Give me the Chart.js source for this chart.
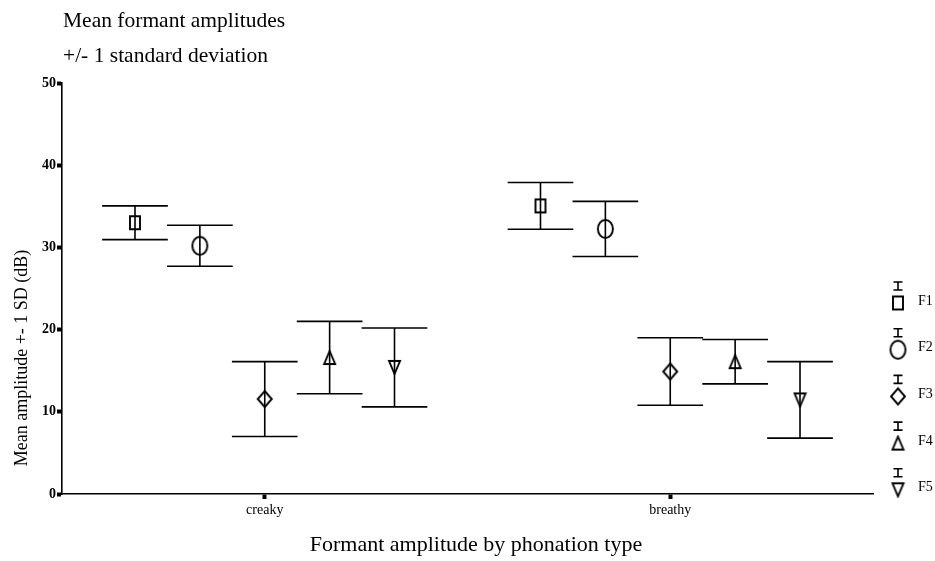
<!DOCTYPE html>
<html lang="en">
<head>
    <meta charset="UTF-8">
    <title>Mean formant amplitudes</title>
    <style>
        body { margin: 0; background: #fff; }
    </style>
</head>
<body>
    <canvas id="formantChart" width="935" height="561"></canvas>

    <script src="https://cdn.jsdelivr.net/npm/chart.js"></script>
    <script>
        // categories and series
        const categories = ['creaky', 'breathy'];
        const seriesNames = ['F1', 'F2', 'F3', 'F4', 'F5'];
        const yTicks = [0, 10, 20, 30, 40, 50];

        // mean amplitude (dB) per category: [creaky, breathy]
        const f1Mean = [33.0, 35.05];
        const f2Mean = [30.2, 32.25];
        const f3Mean = [11.55, 14.9];
        const f4Mean = [16.6, 16.1];
        const f5Mean = [15.4, 11.45];

        // one standard deviation
        const f1Sd = [2.05, 2.85];
        const f2Sd = [2.5, 3.35];
        const f3Sd = [4.55, 4.1];
        const f4Sd = [4.4, 2.7];
        const f5Sd = [4.8, 4.65];

        const means = [f1Mean, f2Mean, f3Mean, f4Mean, f5Mean];
        const sds = [f1Sd, f2Sd, f3Sd, f4Sd, f5Sd];

        const serif = '"Liberation Serif", "Times New Roman", serif';
        const groupStep = 0.16;   // spread of the five series inside a category
        const capHalf = 0.081;    // half width of the error bar caps, in x units

        function makeMarker(shape, w, h) {
            const c = document.createElement('canvas');
            c.width = w + 4;
            c.height = h + 4;
            const g = c.getContext('2d');
            const cx = c.width / 2, cy = c.height / 2, rx = w / 2, ry = h / 2;
            g.strokeStyle = '#000';
            g.lineWidth = 1.9;
            g.beginPath();
            if (shape === 'square') {
                g.rect(cx - rx, cy - ry, w, h);
            } else if (shape === 'circle') {
                g.ellipse(cx, cy, rx, ry, 0, 0, Math.PI * 2);
            } else if (shape === 'diamond') {
                g.moveTo(cx, cy - ry);
                g.lineTo(cx + rx, cy);
                g.lineTo(cx, cy + ry);
                g.lineTo(cx - rx, cy);
                g.closePath();
            } else if (shape === 'up') {
                g.moveTo(cx, cy - ry);
                g.lineTo(cx + rx, cy + ry);
                g.lineTo(cx - rx, cy + ry);
                g.closePath();
            } else {
                g.moveTo(cx - rx, cy - ry);
                g.lineTo(cx + rx, cy - ry);
                g.lineTo(cx, cy + ry);
                g.closePath();
            }
            g.stroke();
            return c;
        }

        const markers = [
            makeMarker('square', 10, 13),
            makeMarker('circle', 15, 18),
            makeMarker('diamond', 14, 16),
            makeMarker('up', 11, 13),
            makeMarker('down', 11, 13)
        ];

        function offsetOf(i) {
            return (i - 2) * groupStep;
        }

        const errorBars = {
            id: 'errorBars',
            beforeDatasetsDraw(chart) {
                const ctx = chart.ctx;
                const xs = chart.scales.x, ys = chart.scales.y;
                ctx.save();
                ctx.strokeStyle = '#000';
                ctx.lineWidth = 1.6;
                means.forEach((m, i) => {
                    m.forEach((v, j) => {
                        const x = xs.getPixelForValue(j + offsetOf(i));
                        const x0 = xs.getPixelForValue(j + offsetOf(i) - capHalf);
                        const x1 = xs.getPixelForValue(j + offsetOf(i) + capHalf);
                        const top = ys.getPixelForValue(v + sds[i][j]);
                        const bot = ys.getPixelForValue(v - sds[i][j]);
                        ctx.beginPath();
                        ctx.moveTo(x, top); ctx.lineTo(x, bot);
                        ctx.moveTo(x0, top); ctx.lineTo(x1, top);
                        ctx.moveTo(x0, bot); ctx.lineTo(x1, bot);
                        ctx.stroke();
                    });
                });
                ctx.restore();
            }
        };

        const texts = {
            id: 'texts',
            afterDraw(chart) {
                const ctx = chart.ctx;
                ctx.save();
                ctx.fillStyle = '#000';
                ctx.font = '21.5px ' + serif;
                ctx.textAlign = 'left';
                ctx.textBaseline = 'alphabetic';
                ctx.fillText('Mean formant amplitudes', 63, 27);
                ctx.fillText('+/- 1 standard deviation', 63, 62);

                ctx.textAlign = 'center';
                ctx.font = '22px ' + serif;
                ctx.fillText('Formant amplitude by phonation type', 476, 551);

                ctx.save();
                ctx.font = '18px ' + serif;
                ctx.translate(27, 358);
                ctx.rotate(-Math.PI / 2);
                ctx.fillText('Mean amplitude +- 1 SD (dB)', 0, 0);
                ctx.restore();

                // legend at the right
                ctx.strokeStyle = '#000';
                ctx.lineWidth = 1.6;
                ctx.font = '14px ' + serif;
                ctx.textAlign = 'left';
                ctx.textBaseline = 'middle';
                seriesNames.forEach((name, i) => {
                    const yc = 303 + i * 46.7;
                    const xc = 898;
                    ctx.beginPath();
                    ctx.moveTo(xc, yc - 21); ctx.lineTo(xc, yc - 13);
                    ctx.moveTo(xc - 4.5, yc - 21); ctx.lineTo(xc + 4.5, yc - 21);
                    ctx.moveTo(xc - 4.5, yc - 13); ctx.lineTo(xc + 4.5, yc - 13);
                    ctx.stroke();
                    const m = markers[i];
                    ctx.drawImage(m, xc - m.width / 2, yc - m.height / 2);
                    ctx.fillText(name, 918, yc - 2);
                });
                ctx.restore();
            }
        };

        const datasets = seriesNames.map((name, i) => ({
            label: name,
            data: categories.map((c, j) => ({ x: j + offsetOf(i), y: means[i][j] })),
            pointStyle: markers[i],
            pointRadius: 8,
            showLine: false
        }));

        new Chart(document.getElementById('formantChart'), {
            type: 'scatter',
            data: { datasets: datasets },
            plugins: [errorBars, texts],
            options: {
                responsive: false,
                animation: false,
                layout: { padding: { top: 83, right: 62, left: 0, bottom: 0 } },
                plugins: {
                    legend: { display: false },
                    tooltip: { enabled: false }
                },
                scales: {
                    x: {
                        type: 'linear',
                        min: -0.5,
                        max: 1.5,
                        afterBuildTicks: (s) => { s.ticks = [{ value: 0 }, { value: 1 }]; },
                        afterFit: (s) => { s.height = 67; },
                        ticks: {
                            color: '#000',
                            padding: 3,
                            font: { family: serif, size: 14 },
                            callback: (v) => categories[v]
                        },
                        grid: {
                            drawOnChartArea: false,
                            tickLength: 5,
                            tickWidth: 4,
                            tickColor: '#000'
                        },
                        border: { display: true, color: '#000', width: 1.6 }
                    },
                    y: {
                        min: 0,
                        max: 50,
                        afterBuildTicks: (s) => { s.ticks = yTicks.map(v => ({ value: v })); },
                        afterFit: (s) => { s.width = 62; },
                        ticks: {
                            color: '#000',
                            padding: 1,
                            font: { family: serif, size: 14, weight: 'bold' }
                        },
                        grid: {
                            drawOnChartArea: false,
                            tickLength: 5,
                            tickWidth: 4,
                            tickColor: '#000'
                        },
                        border: { display: true, color: '#000', width: 1.6 }
                    }
                }
            }
        });
    </script>
</body>
</html>
